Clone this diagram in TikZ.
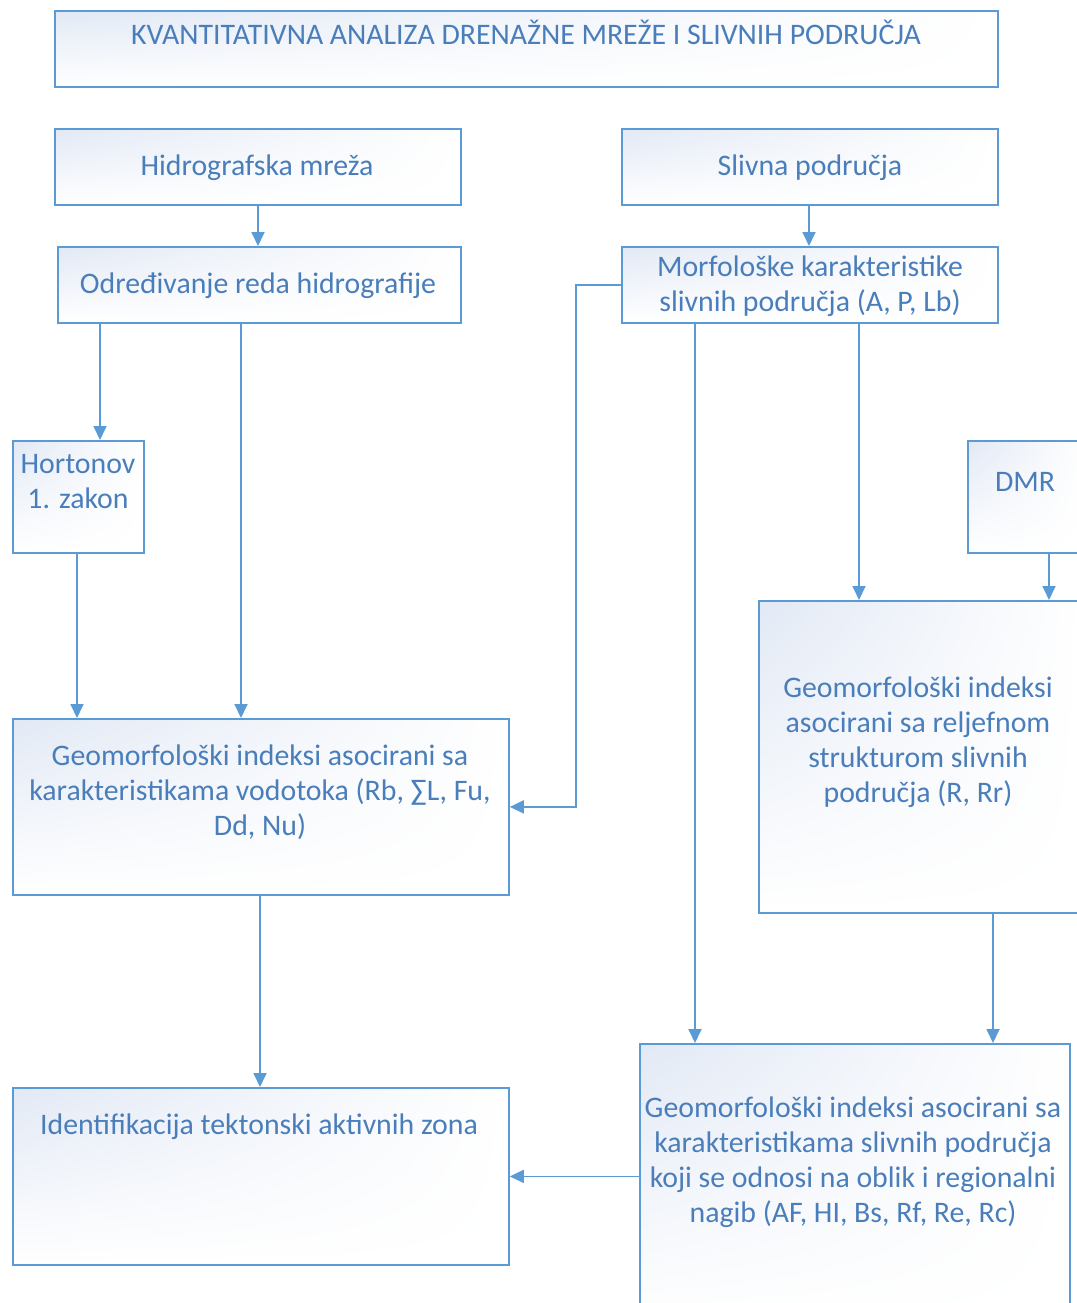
\documentclass[tikz,border=0pt]{standalone}
\usepackage{fontspec}
\setmainfont{Carlito}
\usetikzlibrary{arrows.meta,shadings}
\definecolor{lineblue}{HTML}{5B9BD5}
\definecolor{textblue}{HTML}{4A7EBB}
\definecolor{shadeblue}{HTML}{E2E9F5}
\begin{document}
\begin{tikzpicture}[x=1pt,y=-1pt,
  box/.style={draw=lineblue, line width=1.8pt, upper left=shadeblue, upper right=white, lower left=white, lower right=white, inner sep=0pt, anchor=north west},
  txt/.style={text=textblue, align=center, inner sep=0pt, font=\fontsize{29.8}{35}\selectfont},
  conn/.style={draw=lineblue, line width=1.8pt, -{Triangle[length=14pt,width=13pt]}}]
\useasboundingbox (0,0) rectangle (1076,1303);
% boxes
\node[box, minimum width=943pt, minimum height=76pt] (title) at (54,10) {};
\node[box, minimum width=406pt, minimum height=76pt] (hidro) at (54,128) {};
\node[box, minimum width=376pt, minimum height=76pt] (slivna) at (621,128) {};
\node[box, minimum width=403pt, minimum height=76pt] (odr) at (57,246) {};
\node[box, minimum width=376pt, minimum height=76pt] (morf) at (621,246) {};
\node[box, minimum width=131pt, minimum height=112pt] (hort) at (12,440) {};
\node[box, minimum width=118pt, minimum height=112pt] (dmr) at (967,440) {};
\node[box, minimum width=496pt, minimum height=176pt] (geovod) at (12,718) {};
\node[box, minimum width=322pt, minimum height=312pt] (georel) at (758,600) {};
\node[box, minimum width=496pt, minimum height=177pt] (ident) at (12,1087) {};
\node[box, minimum width=430pt, minimum height=280pt] (geoslv) at (639,1043) {};
% texts
\node[txt] (ttitle) at (526,32) {KVANTITATIVNA ANALIZA DRENAŽNE MREŽE I SLIVNIH PODRUČJA};
\node[txt] (thidro) at (257,168) {Hidrografska mreža};
\node[txt] (tslivna) at (810,168) {Slivna područja};
\node[txt] (todr) at (258,286) {Određivanje reda hidrografije};
\node[txt] (tmorf) at (810,286) {Morfološke karakteristike\\slivnih područja (A, P, Lb)};
\node[txt] (thort) at (78,482) {Hortonov\\1. zakon};
\node[txt] (tdmr) at (1025,482) {DMR};
\node[txt] (tgeovod) at (260,792) {Geomorfološki indeksi asocirani sa\\karakteristikama vodotoka (Rb, ∑L, Fu,\\Dd, Nu)};
\node[txt] (tgeorel) at (918,742) {Geomorfološki indeksi\\asocirani sa reljefnom\\strukturom slivnih\\područja (R, Rr)};
\node[txt] (tident) at (259,1127) {Identifikacija tektonski aktivnih zona};
\node[txt] (tgeoslv) at (853,1162) {Geomorfološki indeksi asocirani sa\\karakteristikama slivnih područja\\koji se odnosi na oblik i regionalni\\nagib (AF, HI, Bs, Rf, Re, Rc)};
% column coordinates
\coordinate (xA) at (100,0);
\coordinate (xB) at (241,0);
\coordinate (xC) at (77,0);
\coordinate (xD) at (695,0);
\coordinate (xE) at (859,0);
\coordinate (xF) at (1049,0);
\coordinate (xG) at (993,0);
\coordinate (xH) at (260,0);
\coordinate (xI) at (576,0);
\coordinate (xJ) at (258,0);
\coordinate (xK) at (809,0);
% connectors
\draw[conn] (hidro.south -| xJ) -- (odr.north -| xJ);
\draw[conn] (slivna.south -| xK) -- (morf.north -| xK);
\draw[conn] (odr.south -| xA) -- (hort.north -| xA);
\draw[conn] (odr.south -| xB) -- (geovod.north -| xB);
\draw[conn] (hort.south -| xC) -- (geovod.north -| xC);
\draw[conn] (morf.west) -| (xI |- geovod.east) -- (geovod.east);
\draw[conn] (morf.south -| xD) -- (geoslv.north -| xD);
\draw[conn] (morf.south -| xE) -- (georel.north -| xE);
\draw[conn] (dmr.south -| xF) -- (georel.north -| xF);
\draw[conn] (georel.south -| xG) -- (geoslv.north -| xG);
\draw[conn] (geovod.south -| xH) -- (ident.north -| xH);
\draw[conn] (geoslv.west |- ident.east) -- (ident.east);
\end{tikzpicture}
\end{document}
